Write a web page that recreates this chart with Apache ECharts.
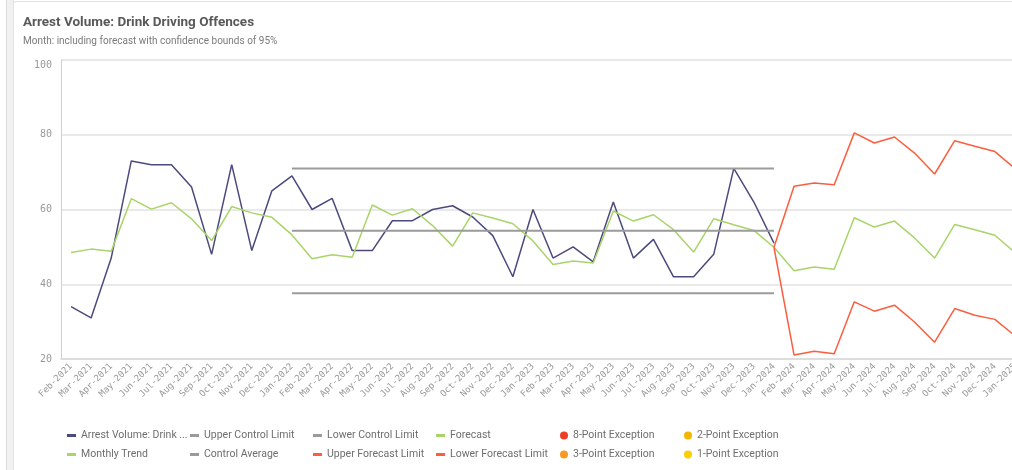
<!DOCTYPE html>
<html>
<head>
<meta charset="utf-8">
<title>Arrest Volume: Drink Driving Offences</title>
<script src="https://cdn.jsdelivr.net/npm/echarts@6/dist/echarts.min.js"></script>
<style>
  html, body { margin: 0; padding: 0; background: #fff; }
  .strip { position: absolute; left: 6px; top: 0; width: 6px; height: 470px; background: #f1f1f1; border-left: 1px solid #dcdcdc; border-right: 1px solid #e2e2e2; }
  .panel { position: absolute; left: 13px; top: 1px; width: 1010px; height: 480px; border: 1px solid #e3e3e3; border-radius: 3px; }
  #main { position: absolute; left: 0; top: 0; width: 1012px; height: 470px; }
</style>
</head>
<body>
<div class="strip"></div>
<div class="panel"></div>
<div id="main"></div>
<script>
  // month axis Feb-2021 .. Jan-2025
  const months = [
    'Feb-2021','Mar-2021','Apr-2021','May-2021','Jun-2021','Jul-2021','Aug-2021','Sep-2021','Oct-2021','Nov-2021','Dec-2021','Jan-2022',
    'Feb-2022','Mar-2022','Apr-2022','May-2022','Jun-2022','Jul-2022','Aug-2022','Sep-2022','Oct-2022','Nov-2022','Dec-2022','Jan-2023',
    'Feb-2023','Mar-2023','Apr-2023','May-2023','Jun-2023','Jul-2023','Aug-2023','Sep-2023','Oct-2023','Nov-2023','Dec-2023','Jan-2024',
    'Feb-2024','Mar-2024','Apr-2024','May-2024','Jun-2024','Jul-2024','Aug-2024','Sep-2024','Oct-2024','Nov-2024','Dec-2024','Jan-2025'
  ]
  const yTicks = [20, 40, 60, 80, 100]

  // actuals Feb-2021 .. Jan-2024
  const arrestVolume = [34,31,47,73,72,72,66,48,72,49,65,69,60,63,49,49,57,57,60,61,58,53,42,60,47,50,46,62,47,52,42,42,48,71,62,51]
  const monthlyTrend = [48.5,49.4,48.8,62.9,60.1,61.8,57.5,51.7,60.8,59.1,57.9,53.2,46.8,47.9,47.2,61.2,58.5,60.2,55.7,50.2,59.1,57.7,56.2,51.6,
                        45.3,46.2,45.7,59.6,56.9,58.6,54.6,48.6,57.5,55.9,54.4,49.9]
  // forecast Jan-2024 .. Jan-2025
  const forecast = [49.9,43.6,44.6,44.0,57.8,55.3,56.9,52.4,47.0,56.0,54.6,53.1,48.5]
  const upperForecast = [49.9,66.2,67.1,66.6,80.5,77.8,79.4,75.1,69.5,78.4,76.9,75.5,71.0]
  const lowerForecast = [49.9,21.1,22.1,21.4,35.3,32.8,34.4,29.9,24.5,33.5,31.7,30.6,26.2]
  // control limits, Jan-2022 .. Jan-2024
  const controlStart = 'Jan-2022'
  const controlEnd = 'Jan-2024'
  const upperControl = 71.0
  const controlAverage = 54.3
  const lowerControl = 37.6

  const forecastStart = months.indexOf('Jan-2024')

  function padFront(arr, n) {
    return new Array(n).fill(null).concat(arr)
  }
  function controlLine(v) {
    const a = months.indexOf(controlStart)
    const b = months.indexOf(controlEnd)
    return months.map((m, i) => (i >= a && i <= b ? v : null))
  }

  const navy = '#4b4a7c'
  const green = '#a8d46a'
  const grey = '#9b9b9b'
  const red = '#fb5e3f'
  const font = "'Liberation Sans Narrow', 'Roboto', sans-serif"
  const mono = "'DejaVu Sans Mono', monospace"

  // legend layout: [name, column, row]
  const legendItems = [
    ['Arrest Volume: Drink Driving Offences', 0, 0],
    ['Monthly Trend', 0, 1],
    ['Upper Control Limit', 1, 0],
    ['Control Average', 1, 1],
    ['Lower Control Limit', 2, 0],
    ['Upper Forecast Limit', 2, 1],
    ['Forecast', 3, 0],
    ['Lower Forecast Limit', 3, 1],
    ['8-Point Exception', 4, 0],
    ['3-Point Exception', 4, 1],
    ['2-Point Exception', 5, 0],
    ['1-Point Exception', 5, 1]
  ]
  const colLeft = [67, 190, 313, 436, 560, 684]
  const rowTop = [430, 449]

  function lineSeries(name, data, color, width) {
    return {
      name: name,
      type: 'line',
      data: data,
      symbol: 'none',
      connectNulls: false,
      lineStyle: { color: color, width: width },
      itemStyle: { color: color },
      emphasis: { disabled: true }
    }
  }
  function exceptionSeries(name, color) {
    return { name: name, type: 'scatter', data: [], itemStyle: { color: color, opacity: 1 } }
  }

  let myChart = echarts.init(document.getElementById('main'))

  const legends = legendItems.map(([name, c, r]) => {
    const isDot = c >= 4
    return {
      data: [name],
      left: colLeft[c],
      top: rowTop[r],
      icon: isDot ? 'circle' : 'rect',
      itemWidth: isDot ? 8 : 9,
      itemHeight: isDot ? 8 : 3,
      itemGap: 0,
      padding: 0,
      selectedMode: false,
      itemStyle: { opacity: 1 },
      textStyle: { color: '#6e6e6e', fontSize: 10.5, fontFamily: font },
      formatter: n => (n.length > 22 ? n.slice(0, 20) + ' ...' : n)
    }
  })

  const option = {
    animation: false,
    title: {
      text: 'Arrest Volume: Drink Driving Offences',
      subtext: 'Month: including forecast with confidence bounds of 95%',
      left: 18,
      top: 11,
      itemGap: 6,
      textStyle: { color: '#595959', fontSize: 13.5, fontWeight: 'bold', fontFamily: font },
      subtextStyle: { color: '#7a7a7a', fontSize: 10, fontFamily: font }
    },
    legend: legends,
    grid: { left: 61, right: -13, top: 60, bottom: 111, outerBoundsMode: 'none' },
    xAxis: {
      type: 'category',
      data: months,
      boundaryGap: true,
      axisLine: { show: true, lineStyle: { color: '#d9d9d9', width: 1.5 } },
      axisTick: { show: false },
      axisLabel: { interval: 0, rotate: 45, color: '#9a9a9a', fontSize: 9, fontFamily: mono, margin: 6 }
    },
    yAxis: {
      type: 'value',
      min: yTicks[0],
      max: yTicks[yTicks.length - 1],
      interval: 20,
      axisLine: { show: true, lineStyle: { color: '#d0d0d0' } },
      axisTick: { show: false },
      axisLabel: { color: '#999', fontSize: 10, fontFamily: mono, margin: 9, verticalAlignMaxLabel: 'top' },
      splitLine: { lineStyle: { color: '#e2e2e2', width: 1.5 } }
    },
    series: [
      lineSeries('Arrest Volume: Drink Driving Offences', arrestVolume, navy, 1.5),
      lineSeries('Upper Control Limit', controlLine(upperControl), grey, 2),
      lineSeries('Lower Control Limit', controlLine(lowerControl), grey, 2),
      lineSeries('Forecast', padFront(forecast, forecastStart), green, 1.5),
      lineSeries('Monthly Trend', monthlyTrend, green, 1.5),
      lineSeries('Control Average', controlLine(controlAverage), grey, 2),
      lineSeries('Upper Forecast Limit', padFront(upperForecast, forecastStart), red, 1.5),
      lineSeries('Lower Forecast Limit', padFront(lowerForecast, forecastStart), red, 1.5),
      exceptionSeries('8-Point Exception', '#ee3d22'),
      exceptionSeries('2-Point Exception', '#f4b400'),
      exceptionSeries('3-Point Exception', '#f79a24'),
      exceptionSeries('1-Point Exception', '#fcd000')
    ]
  }

  myChart.setOption(option)
</script>
</body>
</html>
